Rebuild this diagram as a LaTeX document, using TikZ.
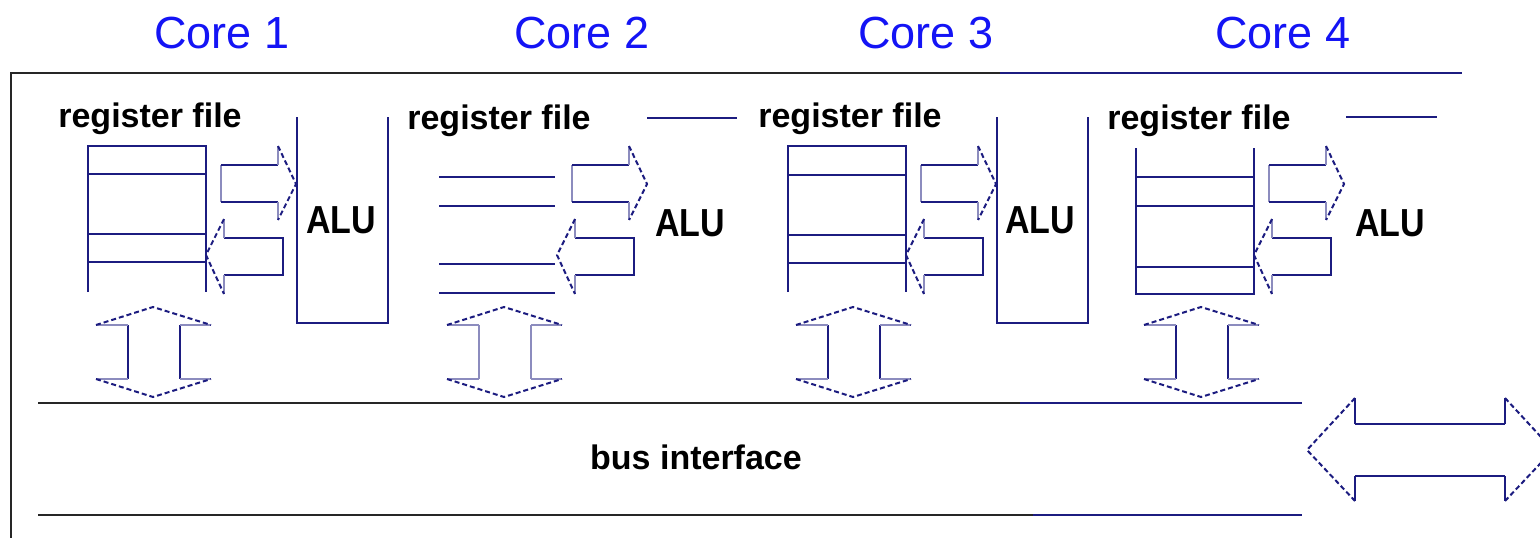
\documentclass[tikz,border=0pt]{standalone}
\usepackage{fontspec}
\setmainfont{Liberation Sans}
\definecolor{nv}{RGB}{28,28,128}
\definecolor{nvlight}{RGB}{140,140,190}
\definecolor{coreblue}{RGB}{20,20,245}
\tikzset{
  nvline/.style={draw=nv, line width=2.2pt},
  blkline/.style={draw=black!85, line width=2.4pt},
  baseedge/.style={draw=nvlight, line width=1.8pt},
  headedge/.style={draw=nv, line width=2pt, dash pattern=on 5pt off 3pt},
  lbl/.style={font=\fontsize{34}{40}\selectfont\bfseries, inner sep=0pt, anchor=base},
  corelbl/.style={font=\fontsize{45}{50}\selectfont, text=coreblue, inner sep=0pt, anchor=base},
  rarrow/.pic={
    \draw[baseedge] (133,165) -- (133,202);
    \draw[nvline] (133,165) -- (190,165);
    \draw[nvline] (133,202) -- (190,202);
    \draw[baseedge] (190,165) -- (190,146);
    \draw[baseedge] (190,202) -- (190,220);
    \draw[headedge] (190,146) -- (208,184) -- (190,220);
  },
  larrow/.pic={
    \draw[nvline] (136,238) -- (195,238) -- (195,275) -- (136,275);
    \draw[baseedge] (136,238) -- (136,219);
    \draw[baseedge] (136,275) -- (136,294);
    \draw[headedge] (136,219) -- (118,255) -- (136,294);
  },
  varrow/.pic={
    \draw[nvline, draw=\shaftcol] (40,325) -- (40,379);
    \draw[nvline, draw=\shaftcol] (92,325) -- (92,379);
    \draw[baseedge] (8,325) -- (40,325);
    \draw[baseedge] (92,325) -- (123,325);
    \draw[baseedge] (8,379) -- (40,379);
    \draw[baseedge] (92,379) -- (123,379);
    \draw[headedge] (8,325) -- (65,307) -- (123,325);
    \draw[headedge] (8,379) -- (65,397) -- (123,379);
  }
}
\newcommand{\shaftcol}{nv}
\newcommand{\alutext}{\scalebox{1}[1.15]{ALU}}
\begin{document}
\begin{tikzpicture}[x=1pt, y=-1pt]
\clip (0,0) rectangle (1540,538);
\useasboundingbox (0,0) rectangle (1540,538);
\fill[white] (0,0) rectangle (1540,538);

% frame
\draw[blkline] (11,540) -- (11,73) -- (1000,73);
\draw[nvline] (1000,73) -- (1462,73);

% core labels
\node[corelbl] (c1) at (222,48) {Core 1};
\node[corelbl] (c2) at (582,48) {Core 2};
\node[corelbl] (c3) at (926,48) {Core 3};
\node[corelbl] (c4) at (1283,48) {Core 4};

% ---------- Core 1 ----------
\begin{scope}[shift={(88,0)}]
  \node[lbl] (rf1) at (62,127) {register file};
  \draw[nvline] (0,292) -- (0,146) -- (118,146) -- (118,292);
  \draw[nvline] (0,174) -- (118,174);
  \draw[nvline] (0,234) -- (118,234);
  \draw[nvline] (0,262) -- (118,262);
  \draw[nvline] (209,117) -- (209,323) -- (300,323) -- (300,117);
  \node[lbl] (alu1) at (253,233) {\alutext};
  \pic {rarrow};
  \pic {larrow};
  \pic {varrow};
\end{scope}

% ---------- Core 2 ----------
\begin{scope}[shift={(439,0)}]
  \node[lbl] (rf2) at (60,129) {register file};
  \draw[nvline] (0,177) -- (116,177);
  \draw[nvline] (0,206) -- (116,206);
  \draw[nvline] (0,264) -- (116,264);
  \draw[nvline] (0,293) -- (116,293);
  \draw[nvline] (208,118) -- (298,118);
  \node[lbl] (alu2) at (251,236) {\alutext};
  \pic {rarrow};
  \pic {larrow};
  \renewcommand{\shaftcol}{nvlight}
  \pic {varrow};
  \renewcommand{\shaftcol}{nv}
\end{scope}

% ---------- Core 3 ----------
\begin{scope}[shift={(788,0)}]
  \node[lbl] (rf3) at (62,127) {register file};
  \draw[nvline] (0,292) -- (0,146) -- (118,146) -- (118,292);
  \draw[nvline] (0,175) -- (118,175);
  \draw[nvline] (0,235) -- (118,235);
  \draw[nvline] (0,263) -- (118,263);
  \draw[nvline] (209,117) -- (209,323) -- (300,323) -- (300,117);
  \node[lbl] (alu3) at (252,233) {\alutext};
  \pic {rarrow};
  \pic {larrow};
  \pic {varrow};
\end{scope}

% ---------- Core 4 ----------
\begin{scope}[shift={(1136,0)}]
  \node[lbl] (rf4) at (63,129) {register file};
  \draw[nvline] (0,148) -- (0,294) -- (118,294) -- (118,148);
  \draw[nvline] (0,177) -- (118,177);
  \draw[nvline] (0,206) -- (118,206);
  \draw[nvline] (0,267) -- (118,267);
  \draw[nvline] (210,117) -- (301,117);
  \node[lbl] (alu4) at (254,236) {\alutext};
  \pic {rarrow};
  \pic {larrow};
  \pic {varrow};
\end{scope}

% bus interface
\draw[blkline] (38,403) -- (1020,403);
\draw[nvline] (1020,403) -- (1302,403);
\draw[blkline] (38,515) -- (1033,515);
\draw[nvline] (1033,515) -- (1302,515);
\node[lbl] (bus) at (696,469) {bus interface};

% external double arrow
\draw[nvline] (1355,424) -- (1505,424);
\draw[nvline] (1355,476) -- (1505,476);
\draw[nvline] (1355,424) -- (1355,398);
\draw[nvline] (1355,476) -- (1355,501);
\draw[nvline] (1505,424) -- (1505,398);
\draw[nvline] (1505,476) -- (1505,501);
\draw[headedge] (1355,398) -- (1307,450) -- (1355,501);
\draw[headedge] (1505,398) -- (1553,450) -- (1505,501);
\end{tikzpicture}
\end{document}
